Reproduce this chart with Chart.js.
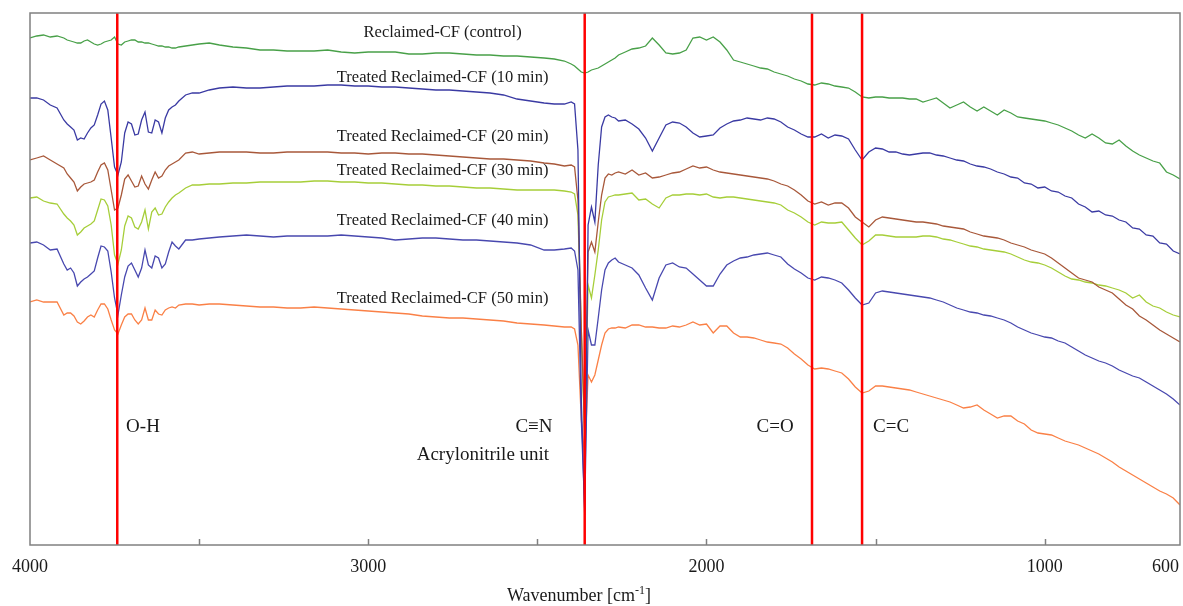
<!DOCTYPE html>
<html>
<head>
<meta charset="utf-8">
<title>FTIR spectra - reclaimed CF</title>
<script src="https://cdn.jsdelivr.net/npm/chart.js@4"></script>
<style>
  html, body { margin: 0; padding: 0; background: #fff; }
</style>
</head>
<body>
<canvas id="ftirChart" width="1183" height="606"></canvas>
<script>
//colors
var green = 'rgb(72,160,72)';
var navy = 'rgb(58,58,163)';
var brown = 'rgb(168,88,58)';
var lime = 'rgb(166,206,57)';
var blue = 'rgb(72,72,175)';
var orange = 'rgb(250,128,70)';
var red = 'rgb(255,0,0)';
var axisGrey = 'rgb(128,128,128)';
var serif = "'Liberation Serif', 'Times New Roman', serif";

//---------------data (wavenumber in cm-1, intensity in arbitrary units)
const wavenumbers = [
  4000, 3980, 3960, 3940, 3920, 3900, 3890, 3880, 3870, 3860, 3850, 3840, 3830, 3820, 3810, 3800, 3790, 3780, 3770, 3760,
  3750, 3740, 3730, 3720, 3710, 3700, 3690, 3680, 3670, 3660, 3650, 3640, 3630, 3620, 3610, 3600, 3590, 3580, 3570, 3560,
  3540, 3520, 3500, 3470, 3440, 3400, 3360, 3320, 3280, 3240, 3200, 3160, 3120, 3080, 3040, 3000,
  2960, 2920, 2880, 2840, 2800, 2760, 2720, 2680, 2640, 2600, 2560, 2520, 2480, 2450, 2420, 2400,
  2390, 2380, 2370, 2360, 2350, 2340, 2330, 2320, 2310, 2300, 2290, 2280, 2270, 2260,
  2240, 2220, 2200, 2180, 2160, 2140, 2120, 2100, 2080, 2060, 2040, 2020, 2000, 1980, 1960, 1940, 1920, 1900, 1880, 1860,
  1840, 1820, 1800, 1780, 1760, 1740, 1720, 1700, 1680, 1660, 1640, 1620, 1600, 1580, 1560, 1540, 1520, 1500, 1480, 1460,
  1440, 1420, 1400, 1380, 1360, 1340, 1320, 1300, 1280, 1260, 1240, 1220, 1200, 1180, 1160, 1140, 1120, 1100, 1080, 1060,
  1040, 1020, 1000, 980, 960, 940, 920, 900, 880, 860, 840, 820, 800, 780, 760, 740, 720, 700, 680, 660,
  640, 620, 600
];

const control = [
  507, 509, 510, 508, 509, 507, 505, 504, 503, 502, 502, 504, 505, 503, 501, 500, 501, 503, 504, 505,
  508, 501, 500, 503, 504, 505, 505, 503, 503, 502, 502, 501, 500, 499, 499, 498, 498, 497, 497, 498,
  499, 500, 501, 502, 500, 498, 497, 495, 495, 494, 494, 494, 495, 493, 492, 493,
  493, 493, 491, 491, 492, 492, 491, 490, 490, 489, 489, 488, 487, 486, 484, 481,
  479, 476, 473, 472, 473, 475, 476, 477, 479, 481, 483, 485, 487, 490,
  493, 496, 497, 499, 507, 500, 492, 491, 492, 495, 507, 508, 505, 508, 503, 495, 485, 483, 481, 479,
  477, 476, 473, 471, 469, 466, 464, 461, 460, 462, 461, 459, 458, 457, 453, 448, 447, 448, 448, 447,
  447, 447, 446, 446, 443, 445, 447, 442, 437, 440, 443, 438, 434, 438, 434, 430, 435, 432, 428, 427,
  426, 425, 424, 422, 420, 417, 414, 410, 407, 411, 407, 402, 401, 405, 399, 394, 390, 387, 384, 382,
  373, 370, 366
];

const treated10 = [
  447, 447, 445, 440, 437, 425, 421, 418, 415, 405, 407, 406, 412, 417, 420, 430, 441, 444, 435, 407,
  378, 370, 383, 412, 423, 421, 410, 411, 425, 433, 413, 412, 425, 423, 412, 427, 435, 438, 440, 444,
  450, 452, 452, 455, 457, 458, 457, 457, 458, 459, 459, 459, 460, 460, 459, 459,
  458, 458, 457, 456, 455, 455, 454, 453, 452, 450, 446, 444, 442, 441, 441, 443,
  441, 395, 145, 30, 320, 338, 323, 380, 418, 428, 430, 428, 427, 424,
  425, 421, 416, 407, 394, 407, 420, 423, 422, 418, 412, 408, 409, 410, 417, 421, 424, 425, 427, 426,
  425, 427, 426, 423, 418, 415, 411, 408, 408, 411, 407, 410, 409, 406, 395, 385, 393, 397, 396, 393,
  393, 391, 390, 391, 392, 392, 390, 389, 387, 385, 384, 381, 379, 378, 376, 373, 371, 368, 367, 362,
  361, 357, 358, 354, 353, 349, 347, 341, 338, 333, 334, 330, 329, 325, 323, 317, 316, 310, 309, 302,
  301, 294, 291
];

const treated20 = [
  385, 387, 389, 385, 381, 377, 371, 367, 363, 354, 358, 361, 362, 363, 365, 373, 380, 382, 375, 355,
  335, 337, 350, 366, 370, 364, 358, 359, 369, 361, 356, 365, 373, 367, 369, 375, 379, 381, 383, 385,
  392, 393, 391, 392, 393, 393, 393, 392, 392, 393, 393, 393, 393, 392, 392, 391,
  392, 392, 391, 391, 390, 389, 388, 387, 386, 386, 385, 384, 382, 381, 379, 380,
  378, 345, 215, 115, 293, 303, 293, 323, 350, 367, 371, 370, 372, 373,
  371, 375, 370, 372, 367, 368, 370, 372, 373, 376, 379, 377, 378, 375, 373, 372, 371, 370, 369, 368,
  367, 366, 364, 361, 359, 355, 350, 344, 341, 343, 340, 342, 342, 337, 328, 323, 318, 325, 328, 327,
  326, 325, 324, 323, 323, 322, 321, 319, 318, 317, 316, 313, 311, 309, 308, 307, 305, 302, 300, 298,
  295, 293, 291, 287, 282, 277, 272, 267, 265, 263, 258, 255, 252, 246, 240, 236, 229, 225, 220, 215,
  211, 207, 203
];

const treated30 = [
  347, 348, 344, 342, 341, 331, 327, 324, 320, 310, 313, 317, 319, 321, 324, 335, 346, 345, 339, 320,
  290, 281, 295, 319, 329, 327, 318, 316, 323, 335, 316, 333, 337, 330, 331, 338, 343, 347, 350, 352,
  357, 360, 360, 361, 361, 362, 362, 363, 363, 363, 363, 364, 364, 363, 363, 362,
  362, 361, 360, 360, 359, 359, 358, 357, 357, 356, 355, 355, 355, 355, 354, 353,
  351, 330, 215, 105, 260, 247, 270, 295, 325, 343, 348, 349, 350, 350,
  351, 352, 345, 346, 341, 337, 347, 350, 350, 351, 351, 350, 351, 348, 347, 348, 348, 347, 346, 345,
  344, 343, 342, 340, 335, 332, 328, 323, 320, 323, 322, 322, 323, 315, 307, 300, 304, 310, 310, 309,
  308, 308, 308, 308, 309, 309, 308, 306, 305, 303, 301, 299, 298, 296, 295, 294, 293, 291, 288, 285,
  283, 282, 280, 277, 273, 269, 266, 265, 263, 262, 260, 259, 257, 255, 252, 247, 250, 243, 239, 237,
  233, 230, 228
];

const treated40 = [
  302, 303, 300, 295, 296, 281, 275, 277, 272, 259, 263, 266, 268, 271, 274, 287, 299, 298, 294, 273,
  247, 230, 250, 268, 279, 282, 275, 268, 277, 295, 280, 277, 289, 287, 277, 281, 293, 303, 299, 296,
  305, 305, 306, 307, 308, 309, 310, 309, 308, 309, 309, 309, 309, 310, 309, 308,
  307, 305, 306, 307, 307, 306, 305, 305, 304, 303, 302, 300, 295, 295, 296, 297,
  294, 275, 125, 35, 215, 200, 200, 227, 255, 275, 282, 285, 287, 283,
  280, 277, 270, 257, 245, 267, 280, 282, 278, 277, 271, 265, 259, 259, 271, 280, 284, 287, 288, 290,
  291, 292, 290, 288, 281, 276, 272, 267, 265, 268, 267, 265, 262, 255, 247, 240, 242, 252, 254, 253,
  252, 251, 250, 249, 248, 247, 245, 243, 240, 237, 235, 233, 232, 230, 229, 227, 225, 222, 218, 215,
  212, 210, 208, 207, 204, 202, 198, 194, 190, 187, 184, 182, 179, 175, 172, 169, 167, 163, 159, 155,
  151, 146, 140
];

const treated50 = [
  243, 245, 243, 243, 243, 230, 232, 232, 229, 223, 221, 224, 228, 230, 228, 235, 241, 241, 236, 225,
  215, 211, 220, 228, 231, 231, 225, 221, 225, 237, 225, 225, 235, 231, 230, 235, 237, 238, 237, 240,
  241, 241, 240, 241, 241, 240, 239, 238, 238, 237, 237, 238, 237, 236, 235, 234,
  233, 232, 231, 229, 228, 227, 227, 226, 225, 224, 222, 221, 220, 219, 218, 218,
  216, 200, 125, 87, 170, 163, 170, 185, 200, 212, 216, 217, 217, 218,
  217, 220, 220, 218, 218, 217, 217, 219, 218, 220, 223, 220, 221, 212, 219, 219, 212, 208, 208, 207,
  205, 203, 202, 201, 197, 191, 186, 180, 176, 177, 176, 174, 172, 166, 158, 152, 154, 159, 159, 158,
  157, 156, 155, 153, 151, 149, 147, 145, 143, 140, 137, 138, 140, 135, 131, 127, 129, 129, 124, 121,
  115, 112, 111, 110, 107, 104, 102, 100, 97, 94, 91, 87, 83, 78, 74, 70, 66, 62, 58, 54,
  51, 47, 40
];

const seriesNames = [
  'Reclaimed-CF (control)',
  'Treated Reclaimed-CF (10 min)',
  'Treated Reclaimed-CF (20 min)',
  'Treated Reclaimed-CF (30 min)',
  'Treated Reclaimed-CF (40 min)',
  'Treated Reclaimed-CF (50 min)'
];

// marked absorption bands
const bandWavenumbers = [3742, 2360, 1688, 1540];
const bandNames = ['O-H', 'C≡N', 'C=O', 'C=C'];

// axis ticks
const tickMarks = [3500, 3000, 2500, 2000, 1500, 1000];
const tickLabels = [4000, 3000, 2000, 1000, 600];
//---------------data End

var yMin = 0;
var yMax = 532;

// where the texts sit, in axis units
var nameLabelX = 2780;
var nameLabelY = [512, 467, 408, 374, 324, 246];
var bandLabelX = [3666, 2510, 1797, 1454];
var bandLabelY = 118;

const spectra = [control, treated10, treated20, treated30, treated40, treated50];
const spectraColors = [green, navy, brown, lime, blue, orange];

const datasets = spectra.map(function (values, i) {
  return {
    label: seriesNames[i],
    data: wavenumbers.map(function (w, j) { return { x: w, y: values[j] }; }),
    borderColor: spectraColors[i],
    borderWidth: 1.3,
    pointRadius: 0,
    fill: false,
    order: 2
  };
});

bandWavenumbers.forEach(function (b, i) {
  datasets.push({
    label: bandNames[i],
    data: [{ x: b, y: yMin }, { x: b, y: yMax }],
    borderColor: red,
    borderWidth: 2.5,
    pointRadius: 0,
    fill: false,
    order: 1
  });
});

//---------------frame, ticks and texts
const ftirDecor = {
  id: 'ftirDecor',
  afterDatasetsDraw: function (chart) {
    var ctx = chart.ctx;
    var a = chart.chartArea;
    var x = chart.scales.x;
    var y = chart.scales.y;
    ctx.save();

    ctx.strokeStyle = axisGrey;
    ctx.lineWidth = 1.5;
    ctx.strokeRect(a.left, a.top, a.right - a.left, a.bottom - a.top);

    tickMarks.forEach(function (v) {
      var px = Math.round(x.getPixelForValue(v)) + 0.5;
      ctx.beginPath();
      ctx.moveTo(px, a.bottom);
      ctx.lineTo(px, a.bottom - 6);
      ctx.stroke();
    });

    ctx.fillStyle = '#1a1a1a';
    ctx.textBaseline = 'middle';
    ctx.font = '18px ' + serif;
    tickLabels.forEach(function (v) {
      var px = x.getPixelForValue(v);
      if (v === x.min) {
        ctx.textAlign = 'right';
        px -= 1;
      } else {
        ctx.textAlign = 'center';
      }
      ctx.fillText(String(v), px, a.bottom + 22);
    });

    // axis title with superscript
    var t1 = 'Wavenumber [cm';
    var t2 = '-1';
    var t3 = ']';
    ctx.textBaseline = 'alphabetic';
    ctx.textAlign = 'left';
    ctx.font = '18px ' + serif;
    var w1 = ctx.measureText(t1).width;
    var w3 = ctx.measureText(t3).width;
    ctx.font = '12px ' + serif;
    var w2 = ctx.measureText(t2).width;
    var tx = a.left + 549 - (w1 + w2 + w3) / 2;
    var ty = a.bottom + 56;
    ctx.font = '18px ' + serif;
    ctx.fillText(t1, tx, ty);
    ctx.font = '12px ' + serif;
    ctx.fillText(t2, tx + w1, ty - 7);
    ctx.font = '18px ' + serif;
    ctx.fillText(t3, tx + w1 + w2, ty);

    // series names
    ctx.textAlign = 'center';
    ctx.textBaseline = 'middle';
    ctx.font = '16.5px ' + serif;
    seriesNames.forEach(function (name, i) {
      ctx.fillText(name, x.getPixelForValue(nameLabelX), y.getPixelForValue(nameLabelY[i]));
    });

    // band names
    ctx.font = '19px ' + serif;
    bandNames.forEach(function (name, i) {
      ctx.fillText(name, x.getPixelForValue(bandLabelX[i]), y.getPixelForValue(bandLabelY));
    });
    ctx.fillText('Acrylonitrile unit', x.getPixelForValue(2661), y.getPixelForValue(90));

    ctx.restore();
  }
};

new Chart(
  document.getElementById('ftirChart'), {
    type: 'line',
    data: { datasets: datasets },
    options: {
      responsive: false,
      animation: false,
      devicePixelRatio: 1,
      layout: { padding: { left: 30, right: 3, top: 13, bottom: 61 } },
      elements: { line: { tension: 0 } },
      plugins: {
        legend: { display: false },
        tooltip: { enabled: false }
      },
      scales: {
        x: { type: 'linear', reverse: true, min: 600, max: 4000, display: false },
        y: { type: 'linear', min: yMin, max: yMax, display: false }
      }
    },
    plugins: [ftirDecor]
  }
);
</script>
</body>
</html>
